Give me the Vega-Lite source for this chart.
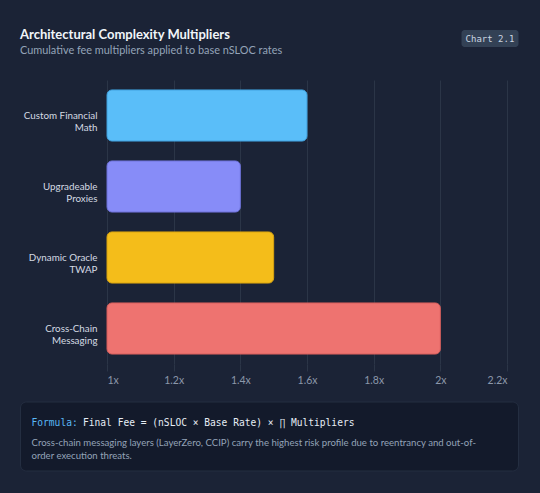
{
  "$schema": "https://vega.github.io/schema/vega-lite/v6.json",
  "background": "#1b2336",
  "padding": {"top": 29, "left": 20, "right": 22, "bottom": 22},
  "title": {
    "text": "Architectural Complexity Multipliers",
    "subtitle": "Cumulative fee multipliers applied to base nSLOC rates",
    "anchor": "start",
    "frame": "bounds",
    "offset": -26,
    "font": "Lato",
    "fontSize": 13,
    "fontWeight": "bold",
    "color": "#f1f5f9",
    "subtitleFont": "Lato",
    "subtitleFontSize": 10.9,
    "subtitleColor": "#94a3b8",
    "subtitlePadding": 3
  },
  "config": {
    "view": {"stroke": null},
    "font": "Lato"
  },
  "spacing": 15,
  "vconcat": [
    {
      "width": 400,
      "height": 284,
      "data": {"values": [
        {"area": "Custom Financial Math", "multiplier": 1.6},
        {"area": "Upgradeable Proxies", "multiplier": 1.4},
        {"area": "Dynamic Oracle TWAP", "multiplier": 1.5},
        {"area": "Cross-Chain Messaging", "multiplier": 2.0}
      ]},
      "layer": [
        {
          "mark": {"type": "bar", "cornerRadiusEnd": 5, "strokeWidth": 1},
          "encoding": {
            "y": {
              "field": "area", "type": "nominal", "sort": null, "title": null,
              "scale": {"paddingInner": 0.28, "paddingOuter": 0.14},
              "axis": {
                "domain": false, "ticks": false, "labelPadding": 10,
                "labelColor": "#d4dae3", "labelFontSize": 9.8, "labelLineHeight": 12.5,
                "labelExpr": "datum.value == 'Custom Financial Math' ? ['Custom Financial', 'Math'] : datum.value == 'Upgradeable Proxies' ? ['Upgradeable', 'Proxies'] : datum.value == 'Dynamic Oracle TWAP' ? ['Dynamic Oracle', 'TWAP'] : ['Cross-Chain', 'Messaging']"
              }
            },
            "x": {
              "field": "multiplier", "type": "quantitative", "title": null,
              "scale": {"domain": [1, 2.2], "zero": false, "nice": false},
              "axis": {
                "values": [1, 1.2, 1.4, 1.6, 1.8, 2, 2.2],
                "format": ".1~f",
                "labelExpr": "datum.label + 'x'",
                "domain": false,
                "grid": true, "gridColor": "#2b3547", "gridWidth": 1,
                "tickColor": "#2b3547", "tickSize": 7,
                "labelColor": "#8b97aa", "labelFontSize": 10.5, "labelPadding": 4
              }
            },
            "x2": {"datum": 1},
            "color": {
              "field": "area", "type": "nominal", "legend": null,
              "scale": {
                "domain": ["Custom Financial Math", "Upgradeable Proxies", "Dynamic Oracle TWAP", "Cross-Chain Messaging"],
                "range": ["#5abef9", "#878cf8", "#f4bd1a", "#ee7370"]
              }
            },
            "stroke": {
              "field": "area", "type": "nominal", "legend": null,
              "scale": {
                "domain": ["Custom Financial Math", "Upgradeable Proxies", "Dynamic Oracle TWAP", "Cross-Chain Messaging"],
                "range": ["#3f9fdc", "#6d70d8", "#d8a30f", "#d45d5b"]
              }
            }
          }
        },
        {
          "data": {"values": [{"badge": "Chart 2.1"}]},
          "mark": {"type": "rect", "fill": "#334155", "cornerRadius": 3},
          "encoding": {
            "x": {"value": 354.5},
            "x2": {"value": 411.5},
            "y": {"value": -50},
            "y2": {"value": -33}
          }
        },
        {
          "data": {"values": [{"badge": "Chart 2.1"}]},
          "mark": {"type": "text", "font": "DejaVu Sans Mono", "fontSize": 9, "color": "#cbd5e1", "align": "center", "baseline": "middle"},
          "encoding": {
            "text": {"field": "badge"},
            "x": {"value": 383},
            "y": {"value": -41.5}
          }
        }
      ]
    },
    {
      "width": 400,
      "height": 69,
      "data": {"values": [
        {"part": "key", "text": "Formula:"},
        {"part": "formula", "text": "Final Fee = (nSLOC × Base Rate) × ∏ Multipliers"},
        {"part": "note1", "text": "Cross-chain messaging layers (LayerZero, CCIP) carry the highest risk profile due to reentrancy and out-of-"},
        {"part": "note2", "text": "order execution threats."}
      ]},
      "layer": [
        {
          "transform": [{"filter": "datum.part == 'key'"}],
          "mark": {"type": "rect", "fill": "#131a2b", "stroke": "#242e41", "strokeWidth": 1, "cornerRadius": 6},
          "encoding": {"x": {"value": -86.5}, "x2": {"value": 411.5}, "y": {"value": 0}, "y2": {"value": 69}}
        },
        {
          "transform": [{"filter": "datum.part == 'key'"}],
          "mark": {"type": "text", "font": "DejaVu Sans Mono", "fontSize": 9.6, "color": "#5ab8f6", "align": "left"},
          "encoding": {"text": {"field": "text"}, "x": {"value": -75.5}, "y": {"value": 20.5}}
        },
        {
          "transform": [{"filter": "datum.part == 'formula'"}],
          "mark": {"type": "text", "font": "DejaVu Sans Mono", "fontSize": 9.6, "color": "#e6edf5", "align": "left"},
          "encoding": {"text": {"field": "text"}, "x": {"value": -24}, "y": {"value": 20.5}}
        },
        {
          "transform": [{"filter": "datum.part == 'note1'"}],
          "mark": {"type": "text", "fontSize": 9.6, "color": "#94a3b8", "align": "left"},
          "encoding": {"text": {"field": "text"}, "x": {"value": -75.5}, "y": {"value": 40.5}}
        },
        {
          "transform": [{"filter": "datum.part == 'note2'"}],
          "mark": {"type": "text", "fontSize": 9.6, "color": "#94a3b8", "align": "left"},
          "encoding": {"text": {"field": "text"}, "x": {"value": -75.5}, "y": {"value": 54}}
        }
      ]
    }
  ]
}
